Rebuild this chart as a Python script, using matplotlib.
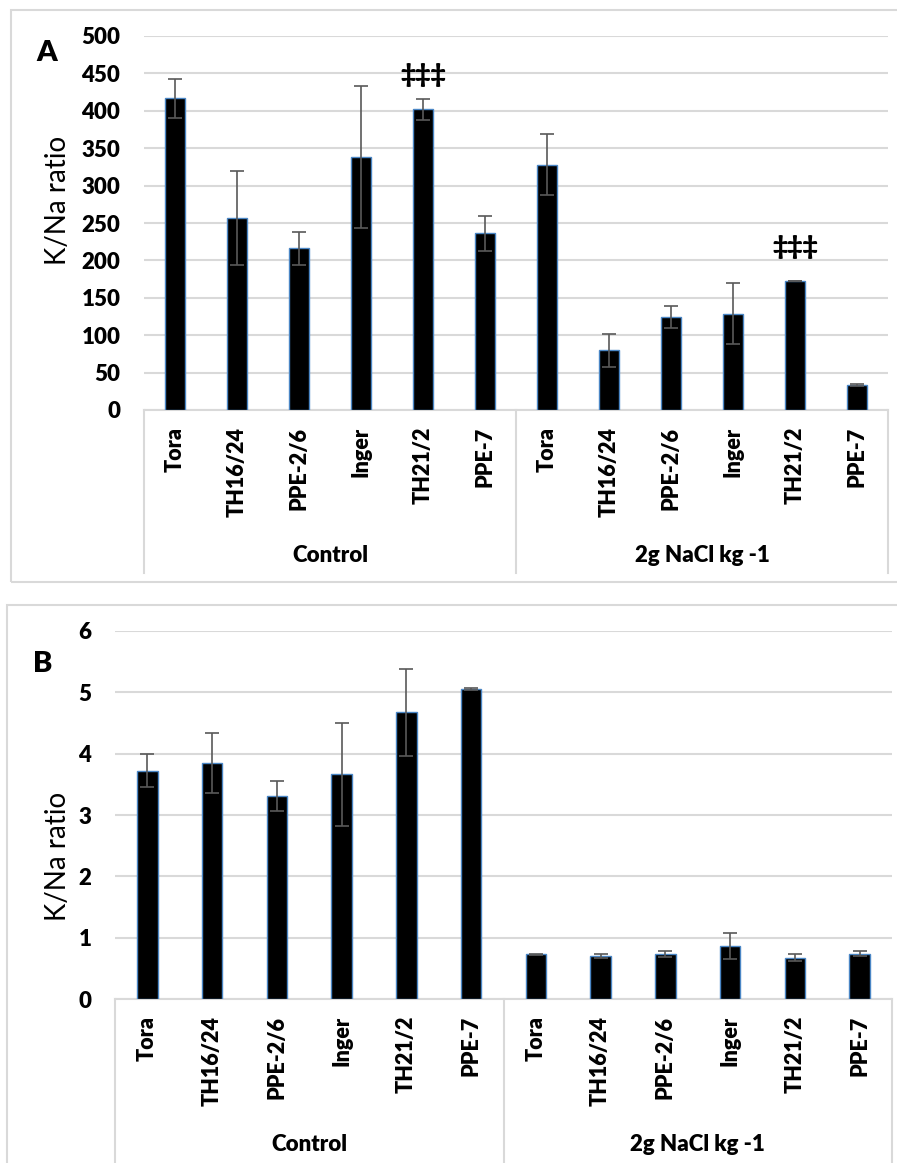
import matplotlib.pyplot as plt
from matplotlib.patches import Rectangle

plt.rcParams["font.family"] = ["Lato", "DejaVu Sans"]

cultivars = ["Tora", "TH16/24", "PPE-2/6", "Inger", "TH21/2", "PPE-7"]
groups = ["Control", "2g NaCl kg -1"]

# panel A: K/Na ratio, control then salt
a_values = [417, 257, 216, 338, 402, 236, 328, 80, 124, 129, 172, 33]
a_errors = [26, 63, 22, 95, 14, 24, 41, 22, 15, 41, 0, 1.5]
a_marks = [(4, 448), (10, 218)]

# panel B
b_values = [3.72, 3.85, 3.31, 3.66, 4.67, 5.05, 0.73, 0.71, 0.74, 0.87, 0.68, 0.74]
b_errors = [0.27, 0.49, 0.25, 0.84, 0.71, 0.02, 0.01, 0.03, 0.05, 0.21, 0.05, 0.04]

W, H = 897, 1163
grid_color = "#d9d9d9"
wt = "heavy"


def draw_panel(ax, values, errors, ymax, ystep, cat_bottom, group_y, letter, letter_xy, ylab_xy):
    labels = cultivars * 2
    x = list(range(len(values)))
    ax.bar(x, values, width=0.32, color="black", edgecolor="#4a86c5", linewidth=1.0, zorder=3)
    ax.errorbar(x, values, yerr=errors, fmt="none", ecolor="#595959", elinewidth=1.2,
                capsize=5, capthick=1.2, zorder=4)
    ax.set_xlim(-0.5, len(values) - 0.5)
    ax.set_ylim(0, ymax)
    ax.set_yticks([ystep * i for i in range(int(round(ymax / ystep)) + 1)])
    ax.yaxis.grid(True, color=grid_color, linewidth=1.5, zorder=0)
    ax.set_axisbelow(True)
    for s in ["top", "right", "left"]:
        ax.spines[s].set_visible(False)
    ax.spines["bottom"].set_color(grid_color)
    ax.spines["bottom"].set_linewidth(1.5)
    ax.tick_params(axis="y", length=0, pad=17, labelsize=16)
    ax.tick_params(axis="x", length=0, pad=12, labelsize=15.5)
    for t in ax.get_yticklabels():
        t.set_fontweight(wt)
    ax.set_xticks(x)
    ax.set_xticklabels(labels, rotation=90, fontweight=wt, va="top", ha="center")
    tr = ax.get_xaxis_transform()
    for xs in [-0.5, 5.5, 11.5]:
        ax.plot([xs, xs], [0, cat_bottom], transform=tr, color=grid_color, lw=1.5, clip_on=False)
    for i, g in enumerate(groups):
        ax.text(2.5 + 6 * i, group_y, g, transform=tr, ha="center", va="center",
                fontsize=16, fontweight=wt)
    fig.text(letter_xy[0] / W, 1 - letter_xy[1] / H, letter, ha="center", va="center",
             fontsize=21, fontweight=wt)
    fig.text(ylab_xy[0] / W, 1 - ylab_xy[1] / H, "K/Na ratio", rotation=90,
             ha="center", va="center", fontsize=20)


fig = plt.figure(figsize=(W / 100, H / 100), dpi=100)

# outer frames
fig.patches.append(Rectangle((11 / W, 1 - 582 / H), 900 / W, 572 / H, transform=fig.transFigure,
                             fill=False, edgecolor=grid_color, linewidth=1.5))
fig.patches.append(Rectangle((7 / W, -0.02), 900 / W, 1 - 605 / H + 0.02, transform=fig.transFigure,
                             fill=False, edgecolor=grid_color, linewidth=1.5))

ax1 = fig.add_axes([144 / W, 1 - 410 / H, 744 / W, 374 / H])
draw_panel(ax1, a_values, a_errors, 500, 50, -0.436, -0.388, "A", (47, 53), (58, 200))
for xm, ym in a_marks:
    ax1.text(xm, ym, "‡‡‡", ha="center", va="center", fontsize=19, fontweight=wt)

ax2 = fig.add_axes([115 / W, 1 - 999.3 / H, 777 / W, 368.6 / H])
draw_panel(ax2, b_values, b_errors, 6, 1, -0.46, -0.395, "B", (43, 664), (58, 856))

fig.savefig("out.png", dpi=100)
